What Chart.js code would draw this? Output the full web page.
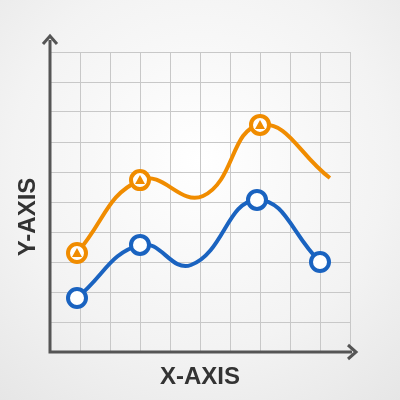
<!DOCTYPE html>
<html><head><script src="https://cdn.jsdelivr.net/npm/chart.js"></script>
<style>html,body{margin:0;padding:0;}body{width:400px;height:400px;background:radial-gradient(circle at 50% 40%,#ffffff 0%,#f3f3f3 60%,#e6e6e6 100%);}</style>
</head><body><canvas id="c" width="400" height="400"></canvas>
<script>
const orangeX=[0.9,3,5.1,7,9.33];
const orangeY=[3.3,5.73,5.2,7.57,5.8];
const orangeMarker=[true,true,false,true,false];
const blueX=[0.9,3,4.7,6.9,9];
const blueY=[1.8,3.57,2.9,5.07,3.0];
const blueMarker=[true,true,false,true,true];
const xLabel="X-AXIS", yLabel="Y-AXIS";
const pts=(xs,ys)=>xs.map((x,i)=>({x:x,y:ys[i]}));
const deco={id:'deco',
 afterDatasetsDraw(ch){const c=ch.ctx,a=ch.chartArea;c.save();
  c.strokeStyle='#555';c.fillStyle='#555';c.lineWidth=3;
  c.beginPath();c.moveTo(a.left,a.top-12);c.lineTo(a.left,a.bottom);c.lineTo(a.right+2,a.bottom);c.stroke();
  c.beginPath();c.moveTo(a.left-7,a.top-8);c.lineTo(a.left,a.top-16);c.lineTo(a.left+7,a.top-8);c.stroke();
  c.beginPath();c.moveTo(a.right-2,a.bottom-7);c.lineTo(a.right+6,a.bottom);c.lineTo(a.right-2,a.bottom+7);c.stroke();
  const m=ch.getDatasetMeta(0);c.fillStyle='#f08c00';
  m.data.forEach((p,i)=>{if(!orangeMarker[i])return;c.beginPath();c.moveTo(p.x,p.y-5);c.lineTo(p.x+5,p.y+4);c.lineTo(p.x-5,p.y+4);c.closePath();c.fill();});
  c.fillStyle='#333';c.font='bold 24px "Liberation Sans",Arial';c.textAlign='center';c.textBaseline='middle';
  c.fillText(xLabel,(a.left+a.right)/2,377);
  c.translate(28,(a.top+a.bottom)/2+15);c.rotate(-Math.PI/2);c.fillText(yLabel,0,0);
  c.restore();}};
new Chart(document.getElementById('c'),{type:'line',
 data:{datasets:[
  {data:pts(orangeX,orangeY),borderColor:'#f08c00',borderWidth:4,tension:0.45,pointRadius:orangeX.map((_,i)=>orangeMarker[i]?9:0),pointBackgroundColor:'#fff',pointBorderColor:'#f08c00',pointBorderWidth:4},
  {data:pts(blueX,blueY),borderColor:'#1a63c0',borderWidth:4,tension:0.45,pointRadius:blueX.map((_,i)=>blueMarker[i]?9:0),pointBackgroundColor:'#fff',pointBorderColor:'#1a63c0',pointBorderWidth:4}]},
 options:{responsive:false,animation:false,layout:{padding:{left:50,right:50,top:52,bottom:48}},
  plugins:{legend:{display:false},tooltip:{enabled:false}},
  scales:{x:{type:'linear',min:0,max:10,ticks:{display:false,stepSize:1},border:{display:false},grid:{color:'#c8c8c8',lineWidth:1,drawTicks:false}},
          y:{min:0,max:10,ticks:{display:false,stepSize:1},border:{display:false},grid:{color:'#c8c8c8',lineWidth:1,drawTicks:false}}}},
 plugins:[deco]});
</script></body></html>
